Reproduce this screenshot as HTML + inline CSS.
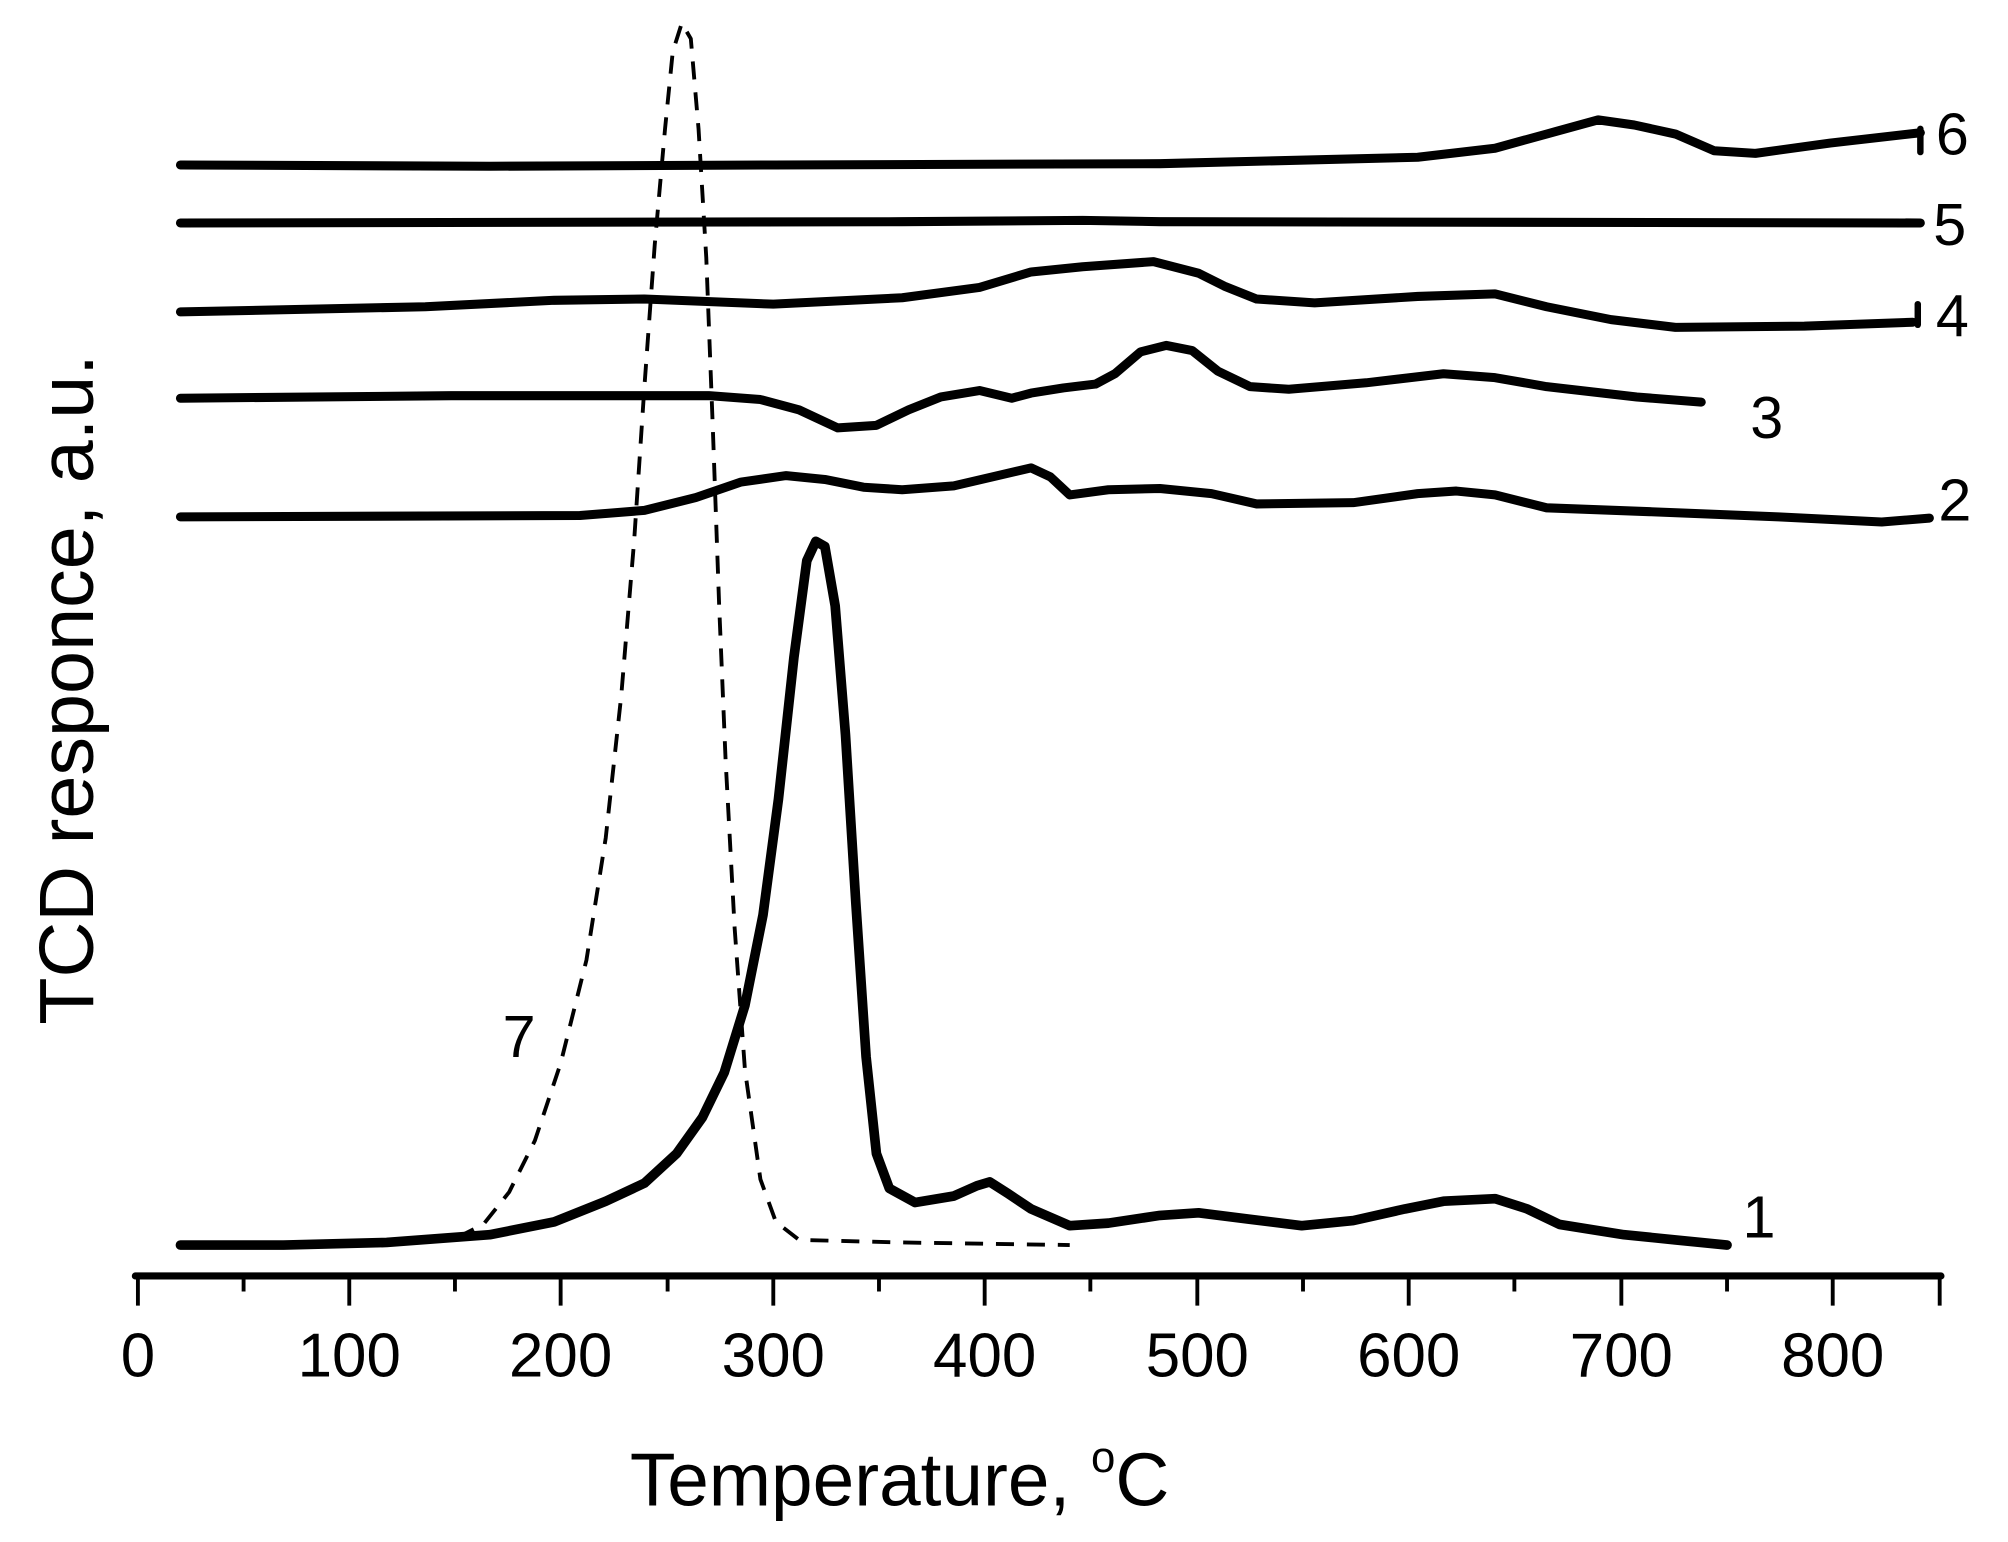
<!DOCTYPE html>
<html><head><meta charset="utf-8"><style>html,body{margin:0;padding:0;background:#fff}svg{display:block}</style></head>
<body>
<svg width="2008" height="1542" viewBox="0 0 1558 1196.4" preserveAspectRatio="none" xmlns="http://www.w3.org/2000/svg" font-family="Liberation Sans, Arial, sans-serif">
<g fill="none" stroke="#000" stroke-linejoin="round" stroke-linecap="round">
<polyline stroke-width="7" points="140,128 380,129 600,128 900,127 1100,122 1160,115 1200,104 1240,93 1268,97 1300,104 1330,117 1362,119 1420,111 1490,103"/>
<line stroke-width="5" x1="1490" y1="100" x2="1490" y2="118"/>
<polyline stroke-width="7" points="140,173 700,172 840,171 900,172 1490,173"/>
<polyline stroke-width="7" points="140,242 330,238 430,233 500,232 600,236 700,231 760,223 800,211 840,207 895,203 930,212 950,222 975,232 1020,235 1100,230 1160,228 1200,238 1250,248 1300,254 1400,253 1484,250"/>
<line stroke-width="5" x1="1488" y1="236" x2="1488" y2="252"/>
<polyline stroke-width="7" points="140,309 350,307 550,307 590,310 620,318 650,332 680,330 705,318 730,308 760,303 785,309 800,305 825,301 850,298 865,290 885,273 905,268 925,272 945,288 970,300 1000,302 1060,297 1120,290 1160,293 1200,300 1270,308 1320,312"/>
<polyline stroke-width="7" points="140,401 450,400 500,396 540,386 575,374 610,369 640,372 670,378 700,380 740,377 770,370 800,363 815,370 830,384 860,380 900,379 940,383 975,391 1050,390 1100,383 1130,381 1160,384 1200,394 1280,397 1380,401 1460,405 1497,402"/>
<polyline stroke-width="7.5" points="140,966 220,966 300,964 380,958 430,948 470,932 500,918 525,895 545,867 562,832 578,780 592,710 604,620 616,510 626,435 633,420 640,424 648,470 656,570 664,700 672,820 680,895 690,922 710,933 740,928 758,920 768,917 782,926 800,938 830,951 860,949 900,943 930,941 970,946 1010,951 1050,947 1090,938 1120,932 1160,930 1185,938 1210,950 1260,958 1300,962 1340,966"/>
<polyline stroke-width="3" stroke-dasharray="14,10" stroke-linecap="butt" points="355,960 375,950 395,925 415,885 435,825 455,745 470,650 482,540 492,420 500,300 508,190 516,100 522,40 529,18 536,30 542,100 548,200 553,330 558,470 563,590 570,720 578,830 590,915 602,948 620,962 700,964 830,966"/>
<line stroke-width="5.5" x1="105" y1="990" x2="1506" y2="990"/>
</g>
<g stroke="#000" stroke-width="3">
<path d="M107,990V1013M271,990V1013M435,990V1013M600,990V1013M764,990V1013M929,990V1013M1093,990V1013M1258,990V1013M1422,990V1013M1505,990V1013M189,990V1002M353,990V1002M518,990V1002M682,990V1002M846,990V1002M1011,990V1002M1175,990V1002M1340,990V1002"/>
</g>
<g font-size="48" text-anchor="middle" fill="#000">
<text x="107" y="1068">0</text><text x="271" y="1068">100</text><text x="435" y="1068">200</text><text x="600" y="1068">300</text><text x="764" y="1068">400</text><text x="929" y="1068">500</text><text x="1093" y="1068">600</text><text x="1258" y="1068">700</text><text x="1422" y="1068">800</text>
</g>
<text x="698" y="1168" font-size="58" text-anchor="middle">Temperature, <tspan font-size="34" dy="-26">o</tspan><tspan dy="26">C</tspan></text>
<text transform="translate(72,535) rotate(-90)" font-size="60" text-anchor="middle">TCD responce, a.u.</text>
<g font-size="46" fill="#000">
<text x="1502" y="120">6</text><text x="1500" y="190">5</text><text x="1502" y="261">4</text><text x="1358" y="340">3</text><text x="1504" y="404">2</text><text x="1352" y="960">1</text><text x="390" y="820">7</text>
</g>
</svg>
</body></html>
